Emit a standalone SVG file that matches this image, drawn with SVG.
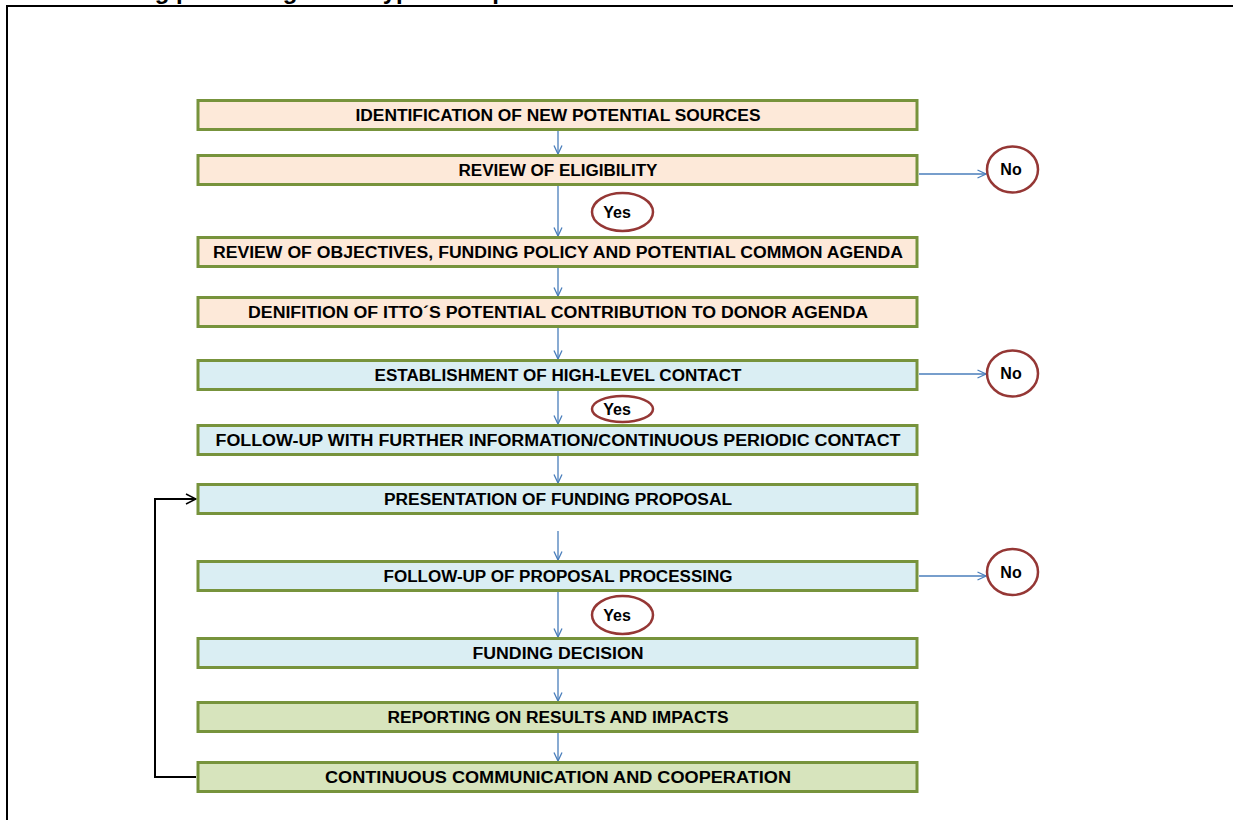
<svg xmlns="http://www.w3.org/2000/svg" width="1233" height="820" viewBox="0 0 1233 820">
<defs>
<marker id="blueArrow" viewBox="0 0 10 10" refX="9.5" refY="5" markerWidth="10" markerHeight="10" markerUnits="userSpaceOnUse" orient="auto">
<path d="M1,1 L9.5,5 L1,9" fill="none" stroke="#4A7EBB" stroke-width="1.3"/>
</marker>
<marker id="blackArrow" viewBox="0 0 12 12" refX="11" refY="6" markerWidth="12" markerHeight="12" markerUnits="userSpaceOnUse" orient="auto">
<path d="M1,1 L11,6 L1,11" fill="none" stroke="#000" stroke-width="1.5"/>
</marker>
</defs>
<style>
.box{stroke:#77933C;stroke-width:3}
.peach{fill:#FDE9D9}
.blue{fill:#DAEEF3}
.green{fill:#D7E4BD}
.lbl{font-family:"Liberation Sans",Arial,sans-serif;font-weight:bold;font-size:16px;fill:#000;text-anchor:middle}
.dec{fill:#fff;stroke:#953735;stroke-width:2.5}
.flow{stroke:#4A7EBB;stroke-width:1.3;fill:none;marker-end:url(#blueArrow)}
.back{stroke:#000;stroke-width:2;fill:none;marker-end:url(#blackArrow)}
</style>
<rect x="0" y="0" width="1233" height="820" fill="#fff"/>
<text x="32" y="-1" font-family="Liberation Sans,Arial,sans-serif" font-weight="bold" font-size="24">Fundraising process: general typical steps</text>
<rect x="7" y="6" width="1240" height="830" fill="none" stroke="#000" stroke-width="2"/>

<g id="connectors">
<line class="flow" x1="558" y1="131" x2="558" y2="154"/>
<line class="flow" x1="558" y1="186" x2="558" y2="236"/>
<line class="flow" x1="558" y1="267" x2="558" y2="296"/>
<line class="flow" x1="558" y1="327" x2="558" y2="359"/>
<line class="flow" x1="558" y1="391" x2="558" y2="424"/>
<line class="flow" x1="558" y1="455" x2="558" y2="483"/>
<line class="flow" x1="558" y1="531" x2="558" y2="560"/>
<line class="flow" x1="558" y1="592" x2="558" y2="637"/>
<line class="flow" x1="558" y1="668" x2="558" y2="701"/>
<line class="flow" x1="558" y1="733" x2="558" y2="761"/>
<line class="flow" x1="919" y1="174" x2="986" y2="174"/>
<line class="flow" x1="919" y1="374" x2="986" y2="374"/>
<line class="flow" x1="919" y1="576" x2="986" y2="576"/>
<polyline class="back" points="196,777 155,777 155,499 196,499"/>
</g>

<g id="n1"><rect class="box peach" x="198" y="100.5" width="719" height="29"/><text class="lbl" x="558" y="121" textLength="405" lengthAdjust="spacingAndGlyphs">IDENTIFICATION OF NEW POTENTIAL SOURCES</text></g>
<g id="n2"><rect class="box peach" x="198" y="155.5" width="719" height="29"/><text class="lbl" x="558" y="176" textLength="199" lengthAdjust="spacingAndGlyphs">REVIEW OF ELIGIBILITY</text></g>
<g id="n3"><rect class="box peach" x="198" y="237.5" width="719" height="29"/><text class="lbl" x="558" y="258" textLength="690" lengthAdjust="spacingAndGlyphs">REVIEW OF OBJECTIVES, FUNDING POLICY AND POTENTIAL COMMON AGENDA</text></g>
<g id="n4"><rect class="box peach" x="198" y="297.5" width="719" height="29"/><text class="lbl" x="558" y="318" textLength="620" lengthAdjust="spacingAndGlyphs">DENIFITION OF ITTO´S POTENTIAL CONTRIBUTION TO DONOR AGENDA</text></g>
<g id="n5"><rect class="box blue" x="198" y="360.5" width="719" height="29"/><text class="lbl" x="558" y="381" textLength="367" lengthAdjust="spacingAndGlyphs">ESTABLISHMENT OF HIGH-LEVEL CONTACT</text></g>
<g id="n6"><rect class="box blue" x="198" y="425.5" width="719" height="29"/><text class="lbl" x="558" y="446" textLength="685" lengthAdjust="spacingAndGlyphs">FOLLOW-UP WITH FURTHER INFORMATION/CONTINUOUS PERIODIC CONTACT</text></g>
<g id="n7"><rect class="box blue" x="198" y="484.5" width="719" height="29"/><text class="lbl" x="558" y="505" textLength="348" lengthAdjust="spacingAndGlyphs">PRESENTATION OF FUNDING PROPOSAL</text></g>
<g id="n8"><rect class="box blue" x="198" y="561.5" width="719" height="29"/><text class="lbl" x="558" y="582" textLength="349" lengthAdjust="spacingAndGlyphs">FOLLOW-UP OF PROPOSAL PROCESSING</text></g>
<g id="n9"><rect class="box blue" x="198" y="638.5" width="719" height="29"/><text class="lbl" x="558" y="659" textLength="171" lengthAdjust="spacingAndGlyphs">FUNDING DECISION</text></g>
<g id="n10"><rect class="box green" x="198" y="702.5" width="719" height="29"/><text class="lbl" x="558" y="723" textLength="341" lengthAdjust="spacingAndGlyphs">REPORTING ON RESULTS AND IMPACTS</text></g>
<g id="n11"><rect class="box green" x="198" y="762.5" width="719" height="29"/><text class="lbl" x="558" y="783" textLength="466" lengthAdjust="spacingAndGlyphs">CONTINUOUS COMMUNICATION AND COOPERATION</text></g>

<g id="no1"><ellipse class="dec" cx="1012.5" cy="169.5" rx="25.5" ry="23"/><text class="lbl" x="1011" y="175">No</text></g>
<g id="no2"><ellipse class="dec" cx="1012.5" cy="373.5" rx="25.5" ry="23"/><text class="lbl" x="1011" y="379">No</text></g>
<g id="no3"><ellipse class="dec" cx="1012.5" cy="572" rx="25.5" ry="23"/><text class="lbl" x="1011" y="578">No</text></g>
<g id="yes1"><ellipse class="dec" cx="622.5" cy="212" rx="30.5" ry="19"/><text class="lbl" x="617" y="218">Yes</text></g>
<g id="yes2"><ellipse class="dec" cx="622.5" cy="409" rx="30.5" ry="13"/><text class="lbl" x="617" y="415">Yes</text></g>
<g id="yes3"><ellipse class="dec" cx="622.5" cy="615" rx="30.5" ry="19"/><text class="lbl" x="617" y="621">Yes</text></g>
</svg>
